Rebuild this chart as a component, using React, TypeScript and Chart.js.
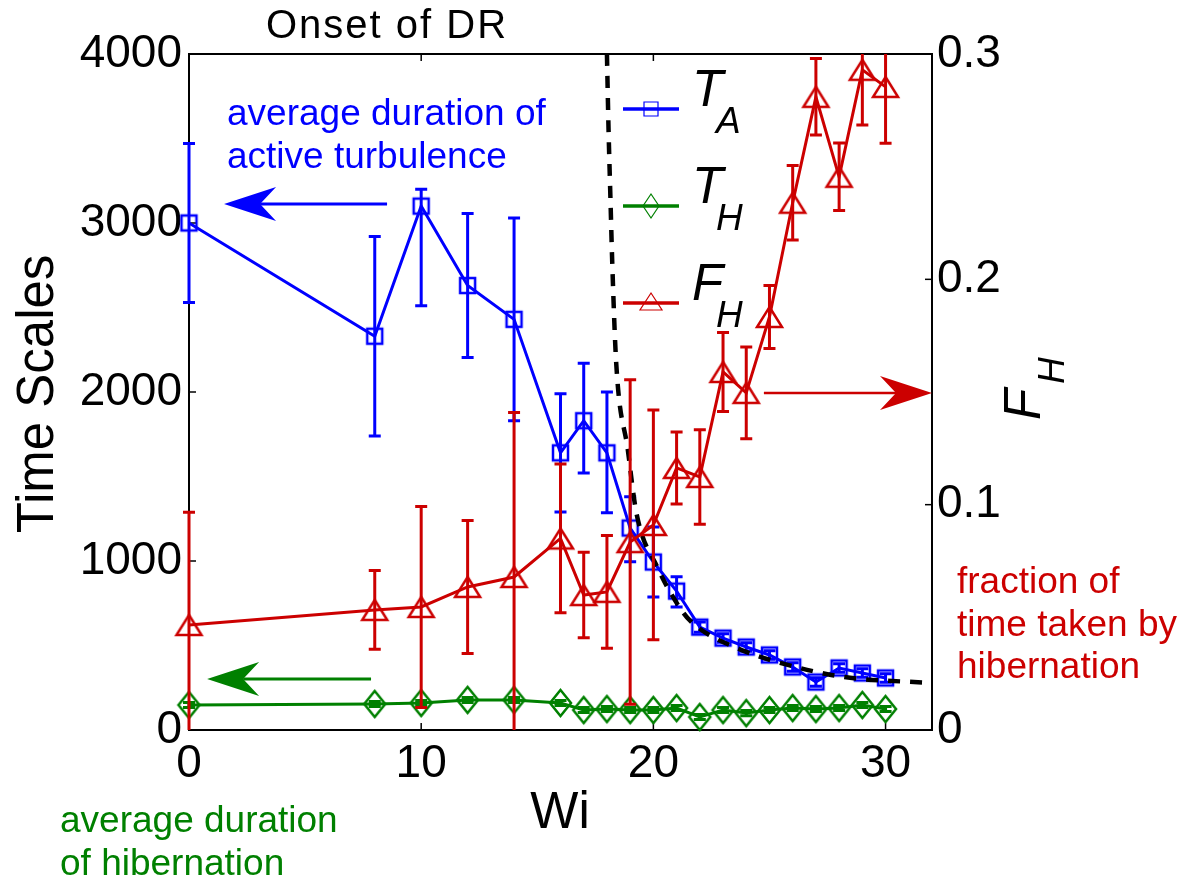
import React, { useEffect, useRef } from 'react';
import { Chart, registerables } from 'chart.js';

Chart.register(...registerables);

// ---------------- data ----------------
const WI = [0, 8, 10, 12, 14, 16, 17, 18, 19, 20, 21, 22, 23, 24, 25, 26, 27, 28, 29, 30];
const T_A = [3000, 2330, 3100, 2630, 2430, 1640, 1830, 1640, 1195, 994, 822, 609, 544, 491, 444, 373, 284, 367, 337, 308];
const T_A_ERR_UP = [470, 590, 100, 426, 600, 350, 340, 360, 185, 207, 85, 30, 25, 25, 25, 25, 25, 25, 25, 25];
const T_A_ERR_DOWN = [470, 590, 590, 426, 600, 350, 310, 355, 200, 207, 94, 30, 25, 25, 25, 25, 25, 25, 25, 25];
const T_H = [148, 154, 160, 178, 178, 160, 118, 124, 118, 118, 130, 77, 118, 100, 118, 130, 124, 130, 148, 124];
const T_H_ERR = [15, 15, 15, 15, 15, 15, 15, 15, 15, 15, 15, 15, 15, 15, 15, 15, 15, 15, 15, 15];
const F_H = [0.0466, 0.0533, 0.0546, 0.0635, 0.0679, 0.085, 0.0599, 0.0613, 0.0834, 0.091, 0.1163, 0.1123, 0.1589, 0.1496, 0.1833, 0.234, 0.281, 0.2455, 0.293, 0.2854];
const F_H_ERR = [0.05, 0.0175, 0.0446, 0.0295, 0.073, 0.033, 0.019, 0.025, 0.072, 0.051, 0.016, 0.021, 0.0175, 0.0204, 0.014, 0.0165, 0.017, 0.015, 0.0245, 0.025];
// dashed "onset of DR" curve
const DR_WI = [18.0, 18.07, 18.15, 18.23, 18.4, 18.9, 19.27, 20.17, 21.3, 21.9, 23.8, 25.5, 28.2, 32];
const DR_T = [4000, 3550, 3150, 2760, 2170, 1657, 1284, 964, 692, 609, 473, 396, 314, 278];

const X_TICKS = [0, 10, 20, 30];
const X_TICK_LABELS = ['0', '10', '20', '30'];
const Y_TICKS = [0, 1000, 2000, 3000, 4000];
const Y_TICK_LABELS = ['0', '1000', '2000', '3000', '4000'];
const Y1_TICKS = [0, 0.1, 0.2, 0.3];
const Y1_TICK_LABELS = ['0', '0.1', '0.2', '0.3'];

// ---------------- styles ----------------
const BLUE = '#0000ff';
const GREEN = '#008000';
const RED = '#cc0000';
const FONT = "'Liberation Sans', Arial, Helvetica, sans-serif";

// annotation arrows in data units
const ARROWS = [
  { x1: 8.53, x2: 1.51, y: 3112, axis: 'y', color: BLUE, lw: 3 },
  { x1: 7.84, x2: 0.78, y: 302, axis: 'y', color: GREEN, lw: 3 },
  { x1: 24.76, x2: 32, y: 0.1496, axis: 'y1', color: RED, lw: 2.5 },
];

// free texts (pixel layout)
const NOTES = [
  { lines: ['average duration of', 'active turbulence'], x: 227, y: 125, color: BLUE },
  { lines: ['average duration', 'of hibernation'], x: 60, y: 832, color: GREEN },
  { lines: ['fraction of', 'time taken by', 'hibernation'], x: 957, y: 593, color: RED },
];

function makeMarker(kind: string, color: string, w: number, h: number, lw: number) {
  const c = document.createElement('canvas');
  const pad = Math.ceil(lw) + 1;
  c.width = w + 2 * pad;
  c.height = h + 2 * pad;
  const g = c.getContext('2d')!;
  g.strokeStyle = color;
  g.lineWidth = lw;
  g.beginPath();
  const l = pad, t = pad, r = pad + w, b = pad + h, cx = c.width / 2, cy = c.height / 2;
  if (kind === 'square') g.rect(l, t, w, h);
  else if (kind === 'diamond') {
    g.moveTo(cx, t); g.lineTo(r, cy); g.lineTo(cx, b); g.lineTo(l, cy); g.closePath();
  } else {
    g.moveTo(cx, t); g.lineTo(r, b); g.lineTo(l, b); g.closePath();
  }
  g.stroke();
  return c;
}

function drawArrow(ctx: CanvasRenderingContext2D, x1: number, y1: number, x2: number, y2: number, color: string, lw: number) {
  const dx = x2 - x1, dy = y2 - y1;
  const len = Math.hypot(dx, dy);
  const ux = dx / len, uy = dy / len;
  const px = -uy, py = ux;
  const headLen = 52, notch = 36, half = 17;
  ctx.save();
  ctx.strokeStyle = color;
  ctx.fillStyle = color;
  ctx.lineWidth = lw;
  ctx.beginPath();
  ctx.moveTo(x1, y1);
  ctx.lineTo(x2 - ux * notch, y2 - uy * notch);
  ctx.stroke();
  ctx.beginPath();
  ctx.moveTo(x2, y2);
  ctx.lineTo(x2 - ux * headLen + px * half, y2 - uy * headLen + py * half);
  ctx.lineTo(x2 - ux * notch, y2 - uy * notch);
  ctx.lineTo(x2 - ux * headLen - px * half, y2 - uy * headLen - py * half);
  ctx.closePath();
  ctx.fill();
  ctx.restore();
}

const ERRORS: any = {
  0: { vals: T_A, up: T_A_ERR_UP, down: T_A_ERR_DOWN, axis: 'y', color: BLUE },
  1: { vals: T_H, up: T_H_ERR, down: T_H_ERR, axis: 'y', color: GREEN },
  2: { vals: F_H, up: F_H_ERR, down: F_H_ERR, axis: 'y1', color: RED },
};

const overlayPlugin = {
  id: 'overlay',
  beforeDatasetsDraw(chart: any) {
    const { ctx, chartArea: a, scales } = chart;
    ctx.save();
    ctx.strokeStyle = '#000';
    ctx.lineWidth = 2;
    ctx.strokeRect(a.left, a.top, a.right - a.left, a.bottom - a.top);
    ctx.lineWidth = 1.5;
    const seg = (x1: number, y1: number, x2: number, y2: number) => {
      ctx.beginPath(); ctx.moveTo(x1, y1); ctx.lineTo(x2, y2); ctx.stroke();
    };
    X_TICKS.forEach((v) => {
      const p = scales.x.getPixelForValue(v);
      seg(p, a.bottom, p, a.bottom - 7);
      seg(p, a.top, p, a.top + 7);
    });
    Y_TICKS.forEach((v) => {
      const p = scales.y.getPixelForValue(v);
      seg(a.left, p, a.left + 7, p);
    });
    Y1_TICKS.forEach((v) => {
      const p = scales.y1.getPixelForValue(v);
      seg(a.right, p, a.right - 7, p);
    });
    ctx.restore();
  },
  beforeDatasetDraw(chart: any, args: any) {
    const eb = ERRORS[args.index];
    if (!eb) return;
    const { ctx, chartArea: a, scales } = chart;
    const xs = scales.x, ys = scales[eb.axis];
    ctx.save();
    ctx.beginPath();
    ctx.rect(a.left - 30, a.top, a.right - a.left + 60, a.bottom - a.top);
    ctx.clip();
    ctx.strokeStyle = eb.color;
    ctx.lineWidth = 3;
    WI.forEach((w, i) => {
      const x = xs.getPixelForValue(w);
      const yt = ys.getPixelForValue(eb.vals[i] + eb.up[i]);
      const yb = ys.getPixelForValue(eb.vals[i] - eb.down[i]);
      ctx.beginPath();
      ctx.moveTo(x, yt); ctx.lineTo(x, yb);
      ctx.moveTo(x - 6, yt); ctx.lineTo(x + 6, yt);
      ctx.moveTo(x - 6, yb); ctx.lineTo(x + 6, yb);
      ctx.stroke();
    });
    ctx.restore();
  },
  afterDraw(chart: any) {
    const { ctx, scales } = chart;
    const xs = scales.x;
    ctx.save();
    // arrows
    ARROWS.forEach((ar) => {
      const ys = scales[ar.axis];
      const y = ys.getPixelForValue(ar.y);
      drawArrow(ctx, xs.getPixelForValue(ar.x1), y, xs.getPixelForValue(ar.x2), y, ar.color, ar.lw);
    });
    // notes
    ctx.textBaseline = 'alphabetic';
    ctx.textAlign = 'left';
    ctx.font = `37px ${FONT}`;
    NOTES.forEach((n) => {
      ctx.fillStyle = n.color;
      n.lines.forEach((ln, k) => ctx.fillText(ln, n.x, n.y + k * 42.5));
    });
    // title-like text
    ctx.fillStyle = '#000';
    ctx.textAlign = 'center';
    ctx.font = `40px ${FONT}`;
    try { (ctx as any).letterSpacing = '2px'; } catch (e) {}
    ctx.fillText('Onset of DR', 387, 38);
    try { (ctx as any).letterSpacing = '0px'; } catch (e) {}
    // axis titles
    ctx.font = `51px ${FONT}`;
    ctx.fillText('Wi', 560, 828);
    ctx.save();
    ctx.translate(53, 394);
    ctx.rotate(-Math.PI / 2);
    ctx.fillText('Time Scales', 0, 0);
    ctx.restore();
    // right axis title F_H
    ctx.save();
    ctx.translate(1040, 420);
    ctx.rotate(-Math.PI / 2);
    ctx.textAlign = 'left';
    ctx.font = `italic 51px ${FONT}`;
    ctx.fillText('F', 0, 0);
    ctx.font = `italic 37px ${FONT}`;
    ctx.fillText('H', 36, 24);
    ctx.restore();
    // legend
    const entries = [
      { main: 'T', sub: 'A', color: BLUE, kind: 'square', y: 109 },
      { main: 'T', sub: 'H', color: GREEN, kind: 'diamond', y: 206 },
      { main: 'F', sub: 'H', color: RED, kind: 'triangle', y: 303 },
    ];
    entries.forEach((e) => {
      ctx.strokeStyle = e.color;
      ctx.lineWidth = 3.5;
      ctx.beginPath(); ctx.moveTo(623, e.y); ctx.lineTo(679, e.y); ctx.stroke();
      ctx.lineWidth = 1.2;
      const cx = 651;
      ctx.beginPath();
      if (e.kind === 'square') ctx.rect(cx - 7, e.y - 7, 14, 14);
      else if (e.kind === 'diamond') { ctx.moveTo(cx, e.y - 12); ctx.lineTo(cx + 8, e.y); ctx.lineTo(cx, e.y + 12); ctx.lineTo(cx - 8, e.y); ctx.closePath(); }
      else { ctx.moveTo(cx, e.y - 10); ctx.lineTo(cx + 11, e.y + 7); ctx.lineTo(cx - 11, e.y + 7); ctx.closePath(); }
      ctx.stroke();
      ctx.fillStyle = '#000';
      ctx.textAlign = 'left';
      ctx.font = `italic 51px ${FONT}`;
      ctx.fillText(e.main, 692, e.y - 3);
      ctx.font = `italic 37px ${FONT}`;
      ctx.fillText(e.sub, 716, e.y + 24);
    });
    ctx.restore();
  },
};

export default function App() {
  const ref = useRef<HTMLCanvasElement | null>(null);
  useEffect(() => {
    const sq = makeMarker('square', BLUE, 15, 15, 2.5);
    const dia = makeMarker('diamond', GREEN, 21, 26, 2.5);
    const tri = makeMarker('triangle', RED, 25, 20, 2.5);
    const pts = (ys: number[]) => WI.map((w, i) => ({ x: w, y: ys[i] }));
    const tickFont = { family: FONT, size: 46 };
    const chart = new Chart(ref.current!, {
      type: 'line',
      data: {
        datasets: [
          { label: 'T_A', data: pts(T_A), yAxisID: 'y', borderColor: BLUE, borderWidth: 3, pointStyle: sq as any, pointRadius: 9, order: 2, clip: false as any },
          { label: 'T_H', data: pts(T_H), yAxisID: 'y', borderColor: GREEN, borderWidth: 3, pointStyle: dia as any, pointRadius: 9, order: 3, clip: false as any },
          { label: 'F_H', data: pts(F_H), yAxisID: 'y1', borderColor: RED, borderWidth: 3, pointStyle: tri as any, pointRadius: 9, order: 0, clip: false as any },
          { label: 'DR', data: DR_WI.map((w, i) => ({ x: w, y: DR_T[i] })), yAxisID: 'y', borderColor: '#000', borderWidth: 4.5, borderDash: [12, 10], pointRadius: 0, cubicInterpolationMode: 'monotone', order: 1, clip: 0 as any },
        ] as any,
      },
      options: {
        animation: false,
        responsive: true,
        maintainAspectRatio: false,
        layout: { padding: { top: 54, left: 0, right: 0, bottom: 0 } },
        plugins: { legend: { display: false }, tooltip: { enabled: false } },
        events: [],
        scales: {
          x: {
            type: 'linear', position: 'bottom', min: 0, max: 32,
            grid: { display: false, drawTicks: false }, border: { display: false },
            afterBuildTicks: (s: any) => { s.ticks = X_TICKS.map((v) => ({ value: v })); },
            afterFit: (s: any) => { s.height = 147; },
            ticks: { font: tickFont, color: '#000', padding: 7, autoSkip: false, maxRotation: 0, callback: (_v: any, i: number) => X_TICK_LABELS[i] },
          },
          y: {
            type: 'linear', position: 'left', min: 0, max: 4000,
            grid: { display: false, drawTicks: false }, border: { display: false },
            afterBuildTicks: (s: any) => { s.ticks = Y_TICKS.map((v) => ({ value: v })); },
            afterFit: (s: any) => { s.width = 189; },
            ticks: { font: tickFont, color: '#000', padding: 7, autoSkip: false, callback: (_v: any, i: number) => Y_TICK_LABELS[i] },
          },
          y1: {
            type: 'linear', position: 'right', min: 0, max: 0.3,
            grid: { display: false, drawTicks: false }, border: { display: false },
            afterBuildTicks: (s: any) => { s.ticks = Y1_TICKS.map((v) => ({ value: v })); },
            afterFit: (s: any) => { s.width = 252; },
            ticks: { font: tickFont, color: '#000', padding: 5, autoSkip: false, callback: (_v: any, i: number) => Y1_TICK_LABELS[i] },
          },
        },
      } as any,
      plugins: [overlayPlugin],
    });
    return () => chart.destroy();
  }, []);
  return (
    <div style={{ position: 'absolute', left: 0, top: 0, width: 1184, height: 877, background: '#fff' }}>
      <canvas ref={ref} />
    </div>
  );
}
